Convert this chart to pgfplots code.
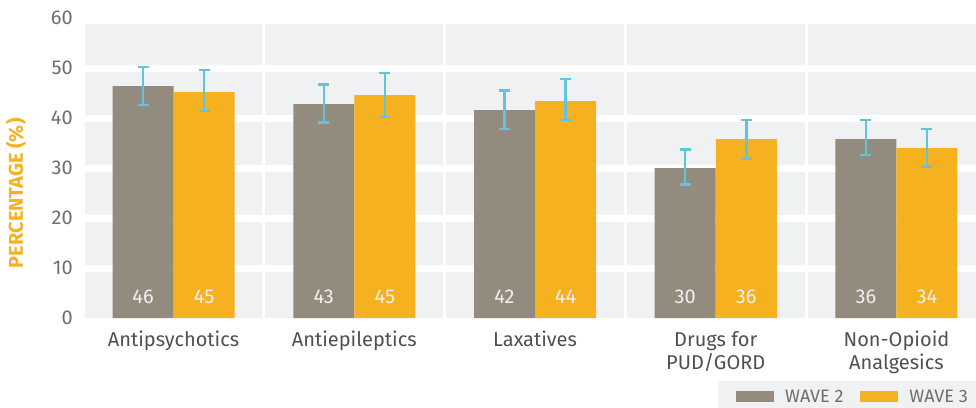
\documentclass[border=0pt]{standalone}
\usepackage{fontspec}
\setmainfont{Fira Sans}
\usepackage{pgfplots}
\usepackage{pgfplotstable}
\pgfplotsset{compat=1.18}
\definecolor{bgc}{HTML}{F0F1F3}
\definecolor{grayb}{HTML}{948B7F}
\definecolor{yel}{HTML}{F5B120}
\definecolor{errc}{HTML}{5FC4DC}
\definecolor{tickc}{HTML}{6D6E71}
\definecolor{catc}{HTML}{4F5053}

\pgfplotstableread{
x y ep em lab
0 46.4 3.8 3.8 46
1 42.8 3.9 3.7 43
2 41.6 3.9 3.8 42
3 30.0 3.7 3.3 30
4 35.8 3.8 3.2 36
}\wavetwo
\pgfplotstableread{
x y ep em lab
0 45.2 4.4 3.8 45
1 44.6 4.4 4.4 45
2 43.4 4.4 3.8 44
3 35.8 3.8 3.9 36
4 34.0 3.8 3.7 34
}\wavethree

\begin{document}
\begin{tikzpicture}
\useasboundingbox (-85pt,-89pt) rectangle (891pt,318pt);
\begin{axis}[
  at={(0,0)}, anchor=south west,
  scale only axis, width=891pt, height=300pt,
  xmin=-0.49, xmax=4.44, ymin=0, ymax=60,
  axis line style={draw=none},
  major tick length=0pt,
  ytick={0,10,...,60},
  xtick={0,...,4},
  xticklabels={Antipsychotics, Antiepileptics, Laxatives, {Drugs for\\PUD/GORD}, {Non-Opioid\\Analgesics}},
  xticklabel style={align=center, font=\fontsize{20}{23}\selectfont, text=catc, anchor=north, inner sep=0pt, yshift=-13pt},
  yticklabel style={font=\fontsize{20}{24}\selectfont, text=tickc, anchor=east, inner sep=0pt, xshift=-12pt},
  /pgf/number format/assume math mode=true,
  ylabel={PERCENTAGE (\%)},
  ylabel style={at={(axis description cs:-0.0775,0.416)}, anchor=center, font=\bfseries\fontsize{20}{24}\selectfont, text=yel},
  legend style={at={(axis description cs:1,0)}, anchor=north east, yshift=-63pt, fill=bgc, draw=none,
    inner xsep=6pt, inner ysep=6.5pt, font=\fontsize{18}{22}\selectfont, text=tickc,
    /tikz/every odd column/.append style={column sep=9pt},
    /tikz/every even column/.append style={column sep=15pt}},
  legend columns=2,
  legend cell align=left,
]
\fill[bgc] (axis cs:-0.49,0) rectangle (axis cs:4.44,58.8);
\draw[white, line width=7pt] (axis cs:-0.49,10) -- (axis cs:4.44,10);
\draw[white, line width=7pt] (axis cs:-0.49,20) -- (axis cs:4.44,20);
\draw[white, line width=7pt] (axis cs:-0.49,30) -- (axis cs:4.44,30);
\draw[white, line width=7pt] (axis cs:-0.49,40) -- (axis cs:4.44,40);
\draw[white, line width=7pt] (axis cs:-0.49,50) -- (axis cs:4.44,50);
\draw[white, line width=3pt] (axis cs:0.5,0) -- (axis cs:0.5,58.8);
\draw[white, line width=3pt] (axis cs:1.5,0) -- (axis cs:1.5,58.8);
\draw[white, line width=3pt] (axis cs:2.5,0) -- (axis cs:2.5,58.8);
\draw[white, line width=3pt] (axis cs:3.5,0) -- (axis cs:3.5,58.8);

\addplot[ybar, bar width=61pt, bar shift=0pt, fill=grayb, draw=none,
  point meta=explicit symbolic, nodes near coords,
  visualization depends on=y \as \rawy,
  every node near coord/.append style={shift={(axis direction cs:0,-\rawy)}, anchor=base, yshift=15pt, font=\fontsize{20}{24}\selectfont, text=white!94!black},
  legend image code/.code={\path (-12pt,0pt); \fill[grayb] (0pt,-5.5pt) rectangle (38pt,5.5pt);},
  error bars/.cd, y dir=both, y explicit,
  error bar style={errc, line width=2.5pt},
  error mark options={errc, line width=2.5pt, mark size=5.5pt, rotate=90}]
  table[x expr=\thisrow{x}-0.1688, y=y, y error plus=ep, y error minus=em, meta=lab] {\wavetwo};
\addlegendentry{WAVE 2}
\addplot[ybar, bar width=61pt, bar shift=0pt, fill=yel, draw=none,
  point meta=explicit symbolic, nodes near coords,
  visualization depends on=y \as \rawy,
  every node near coord/.append style={shift={(axis direction cs:0,-\rawy)}, anchor=base, yshift=15pt, font=\fontsize{20}{24}\selectfont, text=white!94!black},
  legend image code/.code={\fill[yel] (0pt,-5.5pt) rectangle (38pt,5.5pt);},
  error bars/.cd, y dir=both, y explicit,
  error bar style={errc, line width=2.5pt},
  error mark options={errc, line width=2.5pt, mark size=5.5pt, rotate=90}]
  table[x expr=\thisrow{x}+0.1688, y=y, y error plus=ep, y error minus=em, meta=lab] {\wavethree};
\addlegendentry{WAVE 3}
\end{axis}
\end{tikzpicture}
\end{document}
